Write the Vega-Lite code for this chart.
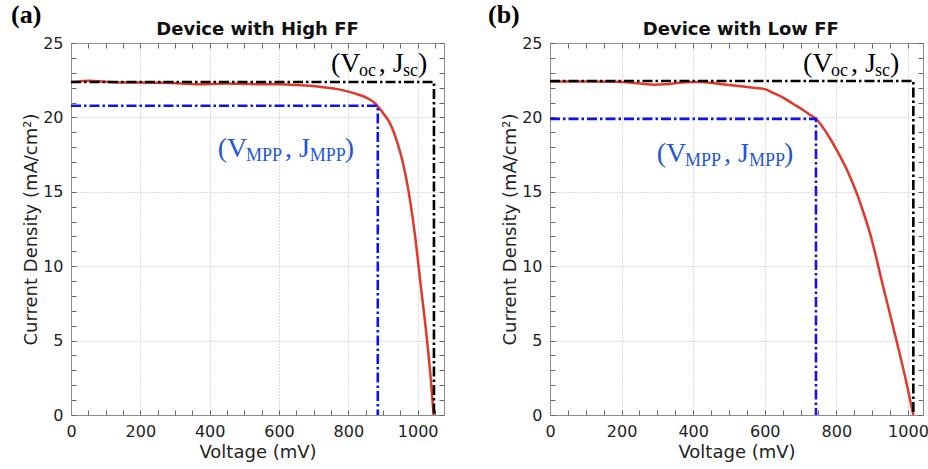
{
  "$schema": "https://vega.github.io/schema/vega-lite/v6.json",
  "background": "white",
  "padding": {"left": 10, "top": 1, "right": 0, "bottom": 3},
  "config": {
    "view": {"stroke": "#8c8c8c", "strokeWidth": 1},
    "concat": {"spacing": 42},
    "axis": {
      "labelFont": "DejaVu Sans", "labelFontSize": 16, "labelColor": "#222",
      "titleFont": "DejaVu Sans", "titleFontSize": 18, "titleFontWeight": "normal", "titleColor": "#222",
      "domainColor": "#8c8c8c", "tickColor": "#666", "tickSize": -5,
      "labelFlush": false, "labelOverlap": false, "format": "d",
      "gridColor": "#bbbbbb", "gridDash": [1, 2]
    }
  },
  "datasets": {
    "highCurve": [
      {"v": 0, "j": 22.38}, {"v": 25, "j": 22.42}, {"v": 55, "j": 22.47}, {"v": 90, "j": 22.42},
      {"v": 120, "j": 22.36}, {"v": 200, "j": 22.34}, {"v": 260, "j": 22.33}, {"v": 320, "j": 22.28},
      {"v": 360, "j": 22.22}, {"v": 400, "j": 22.24}, {"v": 450, "j": 22.28}, {"v": 500, "j": 22.25},
      {"v": 548, "j": 22.22}, {"v": 600, "j": 22.22}, {"v": 644, "j": 22.18}, {"v": 690, "j": 22.12},
      {"v": 730, "j": 22.02}, {"v": 770, "j": 21.9}, {"v": 800, "j": 21.73}, {"v": 830, "j": 21.52},
      {"v": 850, "j": 21.35}, {"v": 870, "j": 21.08}, {"v": 885, "j": 20.75}, {"v": 900, "j": 20.3},
      {"v": 918, "j": 19.7}, {"v": 942, "j": 18.26}, {"v": 957, "j": 17.0}, {"v": 971, "j": 15.4},
      {"v": 990, "j": 12.5}, {"v": 1009, "j": 8.7}, {"v": 1029, "j": 4.6}, {"v": 1038, "j": 2.4},
      {"v": 1046, "j": 0.0}
    ],
    "highRef": [
      {"grp": "oc", "o": 1, "v": 0, "j": 22.38}, {"grp": "oc", "o": 2, "v": 1047, "j": 22.38}, {"grp": "oc", "o": 3, "v": 1047, "j": 0},
      {"grp": "mpp", "o": 1, "v": 0, "j": 20.78}, {"grp": "mpp", "o": 2, "v": 885, "j": 20.78}, {"grp": "mpp", "o": 3, "v": 885, "j": 0}
    ],
    "highLabels": [
      {"grp": "oc", "kind": "main", "t": "(V", "v": 750, "j": 23.05},
      {"grp": "oc", "kind": "sub", "t": "oc", "v": 831, "j": 23.05},
      {"grp": "oc", "kind": "main", "t": ", J", "v": 888, "j": 23.05},
      {"grp": "oc", "kind": "sub", "t": "sc", "v": 958, "j": 23.05},
      {"grp": "oc", "kind": "main", "t": ")", "v": 1001, "j": 23.05},
      {"grp": "mpp", "kind": "main", "t": "(V", "v": 423, "j": 17.34},
      {"grp": "mpp", "kind": "sub", "t": "MPP", "v": 505, "j": 17.34},
      {"grp": "mpp", "kind": "main", "t": ", J", "v": 617, "j": 17.34},
      {"grp": "mpp", "kind": "sub", "t": "MPP", "v": 689, "j": 17.34},
      {"grp": "mpp", "kind": "main", "t": ")", "v": 790, "j": 17.34}
    ],
    "highTitle": [
      {"t": "(a)", "kind": "tag", "v": 0},
      {"t": "Device with High FF", "kind": "title", "v": 538}
    ],
    "lowCurve": [
      {"v": 0, "j": 22.42}, {"v": 100, "j": 22.42}, {"v": 180, "j": 22.4}, {"v": 230, "j": 22.33},
      {"v": 260, "j": 22.25}, {"v": 290, "j": 22.2}, {"v": 320, "j": 22.22}, {"v": 350, "j": 22.3},
      {"v": 400, "j": 22.38}, {"v": 420, "j": 22.38}, {"v": 460, "j": 22.3}, {"v": 500, "j": 22.18},
      {"v": 540, "j": 22.08}, {"v": 577, "j": 21.97}, {"v": 600, "j": 21.9}, {"v": 623, "j": 21.65},
      {"v": 650, "j": 21.35}, {"v": 680, "j": 20.9}, {"v": 707, "j": 20.5}, {"v": 725, "j": 20.2},
      {"v": 743, "j": 19.9}, {"v": 782, "j": 18.6}, {"v": 801, "j": 17.8}, {"v": 830, "j": 16.45},
      {"v": 857, "j": 14.9}, {"v": 875, "j": 13.66}, {"v": 894, "j": 12.2}, {"v": 931, "j": 8.6},
      {"v": 968, "j": 5.0}, {"v": 996, "j": 2.14}, {"v": 1015, "j": 0.0}
    ],
    "lowRef": [
      {"grp": "oc", "o": 1, "v": 0, "j": 22.45}, {"grp": "oc", "o": 2, "v": 1015, "j": 22.45}, {"grp": "oc", "o": 3, "v": 1015, "j": 0},
      {"grp": "mpp", "o": 1, "v": 0, "j": 19.9}, {"grp": "mpp", "o": 2, "v": 743, "j": 19.9}, {"grp": "mpp", "o": 3, "v": 743, "j": 0}
    ],
    "lowLabels": [
      {"grp": "oc", "kind": "main", "t": "(V", "v": 707, "j": 23.05},
      {"grp": "oc", "kind": "sub", "t": "oc", "v": 785, "j": 23.05},
      {"grp": "oc", "kind": "main", "t": ", J", "v": 841, "j": 23.05},
      {"grp": "oc", "kind": "sub", "t": "sc", "v": 908, "j": 23.05},
      {"grp": "oc", "kind": "main", "t": ")", "v": 950, "j": 23.05},
      {"grp": "mpp", "kind": "main", "t": "(V", "v": 298, "j": 17.02},
      {"grp": "mpp", "kind": "sub", "t": "MPP", "v": 377, "j": 17.02},
      {"grp": "mpp", "kind": "main", "t": ", J", "v": 486, "j": 17.02},
      {"grp": "mpp", "kind": "sub", "t": "MPP", "v": 556, "j": 17.02},
      {"grp": "mpp", "kind": "main", "t": ")", "v": 654, "j": 17.02}
    ],
    "lowTitle": [
      {"t": "(b)", "kind": "tag", "v": 0},
      {"t": "Device with Low FF", "kind": "title", "v": 533}
    ]
  },
  "hconcat": [
    {
      "width": 373, "height": 372,
      "layer": [
        {
          "data": {"name": "highCurve"},
          "mark": {"type": "line", "color": "#e2372b", "strokeWidth": 2.5, "clip": true, "interpolate": "monotone"},
          "encoding": {
            "x": {"field": "v", "type": "quantitative", "scale": {"domain": [0, 1076], "nice": false},
              "axis": {"orient": "bottom", "title": "Voltage (mV)", "values": [0,50,100,150,200,250,300,350,400,450,500,550,600,650,700,750,800,850,900,950,1000,1050],
                "labelExpr": "datum.value % 200 === 0 ? datum.label : ''", "labelPadding": 13, "titlePadding": 4,
                "grid": true, "gridOpacity": {"condition": {"test": "datum.value % 200 === 0 && datum.value > 0", "value": 1}, "value": 0}}},
            "y": {"field": "j", "type": "quantitative", "scale": {"domain": [0, 25], "nice": false},
              "axis": {"orient": "left", "title": "Current Density (mA/cm²)", "values": [0,1,2,3,4,5,6,7,8,9,10,11,12,13,14,15,16,17,18,19,20,21,22,23,24,25],
                "labelExpr": "datum.value % 5 === 0 ? datum.label : ''", "labelPadding": 13, "titlePadding": 2,
                "grid": true, "gridOpacity": {"condition": {"test": "datum.value % 5 === 0 && datum.value > 0 && datum.value < 25", "value": 1}, "value": 0}}}
          }
        },
        {
          "data": {"name": "highRef"},
          "mark": {"type": "line", "strokeWidth": 2.6, "strokeDash": [10, 3, 2.5, 3]},
          "encoding": {
            "x": {"field": "v", "type": "quantitative",
              "axis": {"orient": "top", "title": null, "labels": false, "grid": false, "values": [0,50,100,150,200,250,300,350,400,450,500,550,600,650,700,750,800,850,900,950,1000,1050]}},
            "y": {"field": "j", "type": "quantitative",
              "axis": {"orient": "right", "title": null, "labels": false, "grid": false, "values": [0,1,2,3,4,5,6,7,8,9,10,11,12,13,14,15,16,17,18,19,20,21,22,23,24,25]}},
            "color": {"field": "grp", "type": "nominal", "scale": {"domain": ["oc", "mpp"], "range": ["#000000", "#1010f0"]}, "legend": null},
            "order": {"field": "o"}
          }
        },
        {
          "data": {"name": "highLabels"},
          "transform": [{"filter": "datum.kind === 'main'"}],
          "mark": {"type": "text", "font": "Liberation Serif", "fontSize": 28, "align": "left", "baseline": "alphabetic"},
          "encoding": {
            "x": {"field": "v", "type": "quantitative", "axis": null},
            "y": {"field": "j", "type": "quantitative", "axis": null},
            "text": {"field": "t"},
            "color": {"field": "grp", "type": "nominal", "scale": {"domain": ["oc", "mpp"], "range": ["#000000", "#2356d8"]}, "legend": null}
          }
        },
        {
          "data": {"name": "highLabels"},
          "transform": [{"filter": "datum.kind === 'sub'"}],
          "mark": {"type": "text", "font": "Liberation Serif", "fontSize": 18, "align": "left", "baseline": "alphabetic", "dy": 4},
          "encoding": {
            "x": {"field": "v", "type": "quantitative", "axis": null},
            "y": {"field": "j", "type": "quantitative", "axis": null},
            "text": {"field": "t"},
            "color": {"field": "grp", "type": "nominal", "scale": {"domain": ["oc", "mpp"], "range": ["#000000", "#2356d8"]}, "legend": null}
          }
        },
        {
          "data": {"name": "highTitle"},
          "transform": [{"filter": "datum.kind === 'tag'"}],
          "mark": {"type": "text", "font": "Liberation Serif", "fontSize": 26, "fontWeight": "bold", "align": "left", "baseline": "alphabetic", "dx": -60, "dy": -20, "color": "#000"},
          "encoding": {
            "x": {"field": "v", "type": "quantitative", "axis": null},
            "y": {"datum": 25, "type": "quantitative", "axis": null},
            "text": {"field": "t"}
          }
        },
        {
          "data": {"name": "highTitle"},
          "transform": [{"filter": "datum.kind === 'title'"}],
          "mark": {"type": "text", "font": "DejaVu Sans", "fontSize": 18, "fontWeight": "bold", "align": "center", "baseline": "alphabetic", "dy": -8, "color": "#111"},
          "encoding": {
            "x": {"field": "v", "type": "quantitative", "axis": null},
            "y": {"datum": 25, "type": "quantitative", "axis": null},
            "text": {"field": "t"}
          }
        }
      ],
      "resolve": {"axis": {"x": "independent", "y": "independent"}, "scale": {"color": "independent"}}
    },
    {
      "width": 373, "height": 372,
      "layer": [
        {
          "data": {"name": "lowCurve"},
          "mark": {"type": "line", "color": "#e2372b", "strokeWidth": 2.5, "clip": true, "interpolate": "monotone"},
          "encoding": {
            "x": {"field": "v", "type": "quantitative", "scale": {"domain": [0, 1042], "nice": false},
              "axis": {"orient": "bottom", "title": "Voltage (mV)", "values": [0,50,100,150,200,250,300,350,400,450,500,550,600,650,700,750,800,850,900,950,1000],
                "labelExpr": "datum.value % 200 === 0 ? datum.label : ''", "labelPadding": 13, "titlePadding": 4,
                "grid": true, "gridOpacity": {"condition": {"test": "datum.value % 200 === 0 && datum.value > 0", "value": 1}, "value": 0}}},
            "y": {"field": "j", "type": "quantitative", "scale": {"domain": [0, 25], "nice": false},
              "axis": {"orient": "left", "title": "Current Density (mA/cm²)", "values": [0,1,2,3,4,5,6,7,8,9,10,11,12,13,14,15,16,17,18,19,20,21,22,23,24,25],
                "labelExpr": "datum.value % 5 === 0 ? datum.label : ''", "labelPadding": 13, "titlePadding": 2,
                "grid": true, "gridOpacity": {"condition": {"test": "datum.value % 5 === 0 && datum.value > 0 && datum.value < 25", "value": 1}, "value": 0}}}
          }
        },
        {
          "data": {"name": "lowRef"},
          "mark": {"type": "line", "strokeWidth": 2.6, "strokeDash": [10, 3, 2.5, 3]},
          "encoding": {
            "x": {"field": "v", "type": "quantitative",
              "axis": {"orient": "top", "title": null, "labels": false, "grid": false, "values": [0,50,100,150,200,250,300,350,400,450,500,550,600,650,700,750,800,850,900,950,1000]}},
            "y": {"field": "j", "type": "quantitative",
              "axis": {"orient": "right", "title": null, "labels": false, "grid": false, "values": [0,1,2,3,4,5,6,7,8,9,10,11,12,13,14,15,16,17,18,19,20,21,22,23,24,25]}},
            "color": {"field": "grp", "type": "nominal", "scale": {"domain": ["oc", "mpp"], "range": ["#000000", "#1010f0"]}, "legend": null},
            "order": {"field": "o"}
          }
        },
        {
          "data": {"name": "lowLabels"},
          "transform": [{"filter": "datum.kind === 'main'"}],
          "mark": {"type": "text", "font": "Liberation Serif", "fontSize": 28, "align": "left", "baseline": "alphabetic"},
          "encoding": {
            "x": {"field": "v", "type": "quantitative", "axis": null},
            "y": {"field": "j", "type": "quantitative", "axis": null},
            "text": {"field": "t"},
            "color": {"field": "grp", "type": "nominal", "scale": {"domain": ["oc", "mpp"], "range": ["#000000", "#2356d8"]}, "legend": null}
          }
        },
        {
          "data": {"name": "lowLabels"},
          "transform": [{"filter": "datum.kind === 'sub'"}],
          "mark": {"type": "text", "font": "Liberation Serif", "fontSize": 18, "align": "left", "baseline": "alphabetic", "dy": 4},
          "encoding": {
            "x": {"field": "v", "type": "quantitative", "axis": null},
            "y": {"field": "j", "type": "quantitative", "axis": null},
            "text": {"field": "t"},
            "color": {"field": "grp", "type": "nominal", "scale": {"domain": ["oc", "mpp"], "range": ["#000000", "#2356d8"]}, "legend": null}
          }
        },
        {
          "data": {"name": "lowTitle"},
          "transform": [{"filter": "datum.kind === 'tag'"}],
          "mark": {"type": "text", "font": "Liberation Serif", "fontSize": 26, "fontWeight": "bold", "align": "left", "baseline": "alphabetic", "dx": -62, "dy": -20, "color": "#000"},
          "encoding": {
            "x": {"field": "v", "type": "quantitative", "axis": null},
            "y": {"datum": 25, "type": "quantitative", "axis": null},
            "text": {"field": "t"}
          }
        },
        {
          "data": {"name": "lowTitle"},
          "transform": [{"filter": "datum.kind === 'title'"}],
          "mark": {"type": "text", "font": "DejaVu Sans", "fontSize": 18, "fontWeight": "bold", "align": "center", "baseline": "alphabetic", "dy": -8, "color": "#111"},
          "encoding": {
            "x": {"field": "v", "type": "quantitative", "axis": null},
            "y": {"datum": 25, "type": "quantitative", "axis": null},
            "text": {"field": "t"}
          }
        }
      ],
      "resolve": {"axis": {"x": "independent", "y": "independent"}, "scale": {"color": "independent"}}
    }
  ]
}
